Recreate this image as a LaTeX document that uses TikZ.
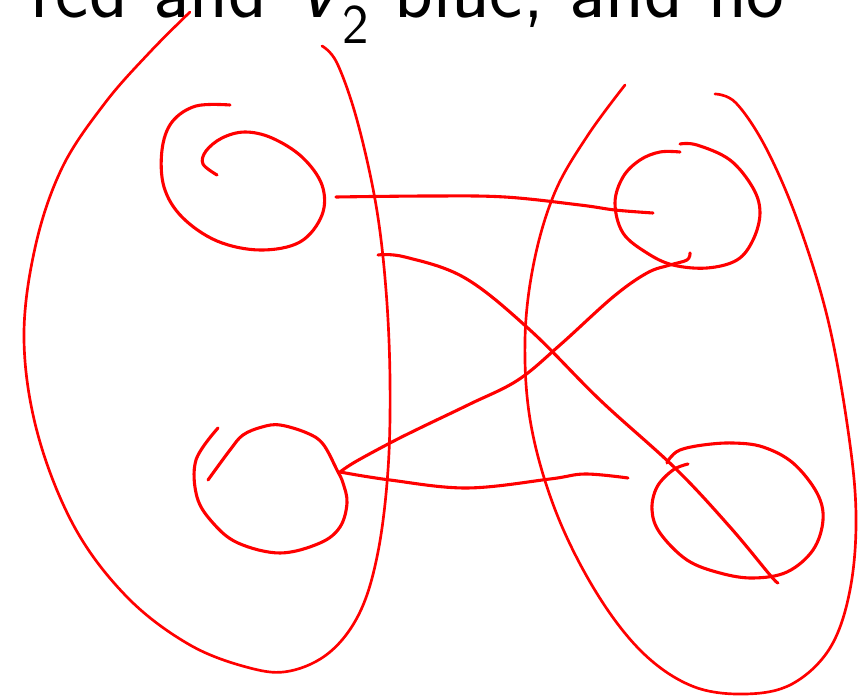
\documentclass[tikz,border=0pt]{standalone}
\usepackage{amsmath}
\usepackage{tikz}
\usetikzlibrary{positioning, calc}

\tikzset{
  ink/.style={draw=red, line width=2.2pt, line cap=round, line join=round},
  blob/.style={ink, line width=1.9pt},
}

\begin{document}
\begin{tikzpicture}[x=0.025cm, y=-0.025cm]
    \useasboundingbox (0,0) rectangle (864,696);

    % Caption line, cut at the top
    \node[anchor=base west, inner sep=0pt, font=\sffamily\fontsize{57}{68}\selectfont] (caption) at (30,18) {red and $\textsl{V}_{\textsf{2}}$ blue, and no};

    % Left part
    \draw[blob] plot[smooth, tension=0.6] coordinates {(190,12) (150,52) (105,103) (62,168) (35,248) (24,340) (38,435) (75,528) (128,598) (190,645) (250,668) (290,671) (330,652) (360,612) (378,552) (388,470) (390,380) (386,290) (376,205) (357,120) (337,63) (322,46)};

    % Right part
    \draw[blob] plot[smooth, tension=0.6] coordinates {(625,85) (588,135) (555,192) (534,262) (525,340) (531,425) (556,512) (596,592) (642,652) (692,686) (745,694) (792,684) (830,648) (850,590) (856,515) (848,430) (828,320) (798,222) (766,148) (736,103) (715,94)};

    % Vertices
    \draw[ink] plot[smooth, tension=0.6] coordinates {(230,105) (196,106) (172,122) (162,150) (164,187) (182,217) (217,241) (260,250) (300,242) (322,215) (322,185) (302,157) (272,138) (245,132) (222,138) (206,151) (203,164) (217,175)};
    \draw[ink] plot[smooth, tension=0.6] coordinates {(680,144) (697,145) (730,160) (753,188) (760,213) (753,240) (737,260) (707,268) (673,265) (647,253) (623,233) (615,203) (623,177) (640,160) (660,152) (680,152)};
    \draw[ink] plot[smooth, tension=0.6] coordinates {(218,428) (196,460) (197,497) (213,523) (238,543) (280,553) (320,543) (340,527) (347,503) (343,483) (337,470) (323,444) (307,433) (280,425) (262,427) (243,435) (230,450) (208,480)};
    \draw[ink] plot[smooth, tension=0.6] coordinates {(688,464) (673,470) (657,487) (652,510) (660,533) (687,560) (720,573) (753,578) (787,572) (813,550) (823,520) (817,493) (793,463) (763,447) (733,443) (703,445) (680,450) (670,458) (667,463)};

    % Ends of the edges
    \coordinate (tl) at (336,197);
    \coordinate (tr) at (653,213);
    \coordinate (trb) at (690,253);
    \coordinate (bl) at (340,472);
    \coordinate (br) at (628,478);
    \coordinate (tlb) at (378,255);
    \coordinate (brb) at (778,583);

    % Edges
    \draw[ink] plot[smooth, tension=0.6] coordinates {(tl) (430,196) (505,197) (580,205) (615,210) (tr)};
    \draw[ink] plot[smooth, tension=0.6] coordinates {(trb) (687,260) (670,265) (647,273) (613,297) (560,345) (518,380) (470,404) (420,428) (390,443) (355,462) (bl)};
    \draw[ink] plot[smooth, tension=0.6] coordinates {(bl) (390,480) (467,488) (550,479) (585,474) (br)};
    \draw[ink] plot[smooth, tension=0.6] coordinates {(tlb) (405,257) (465,278) (530,330) (600,400) (675,468) (730,527) (770,575) (brb)};
\end{tikzpicture}
\end{document}
